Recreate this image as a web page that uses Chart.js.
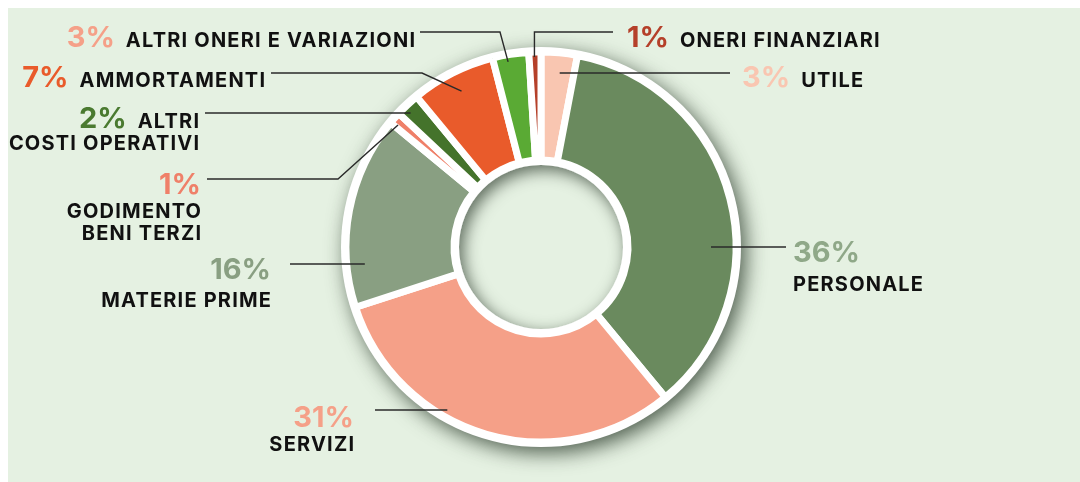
<!DOCTYPE html>
<html><head><meta charset="utf-8">
<script src="https://cdn.jsdelivr.net/npm/chart.js@4.4.1/dist/chart.umd.min.js"></script>
<style>html,body{margin:0;padding:0;background:#fff;}canvas{display:block;}</style>
</head><body>
<canvas id="c" width="1080" height="482"></canvas>
<script>
// ---- data ----
const categories = ['UTILE','PERSONALE','SERVIZI','MATERIE PRIME','GODIMENTO\nBENI TERZI','ALTRI\nCOSTI OPERATIVI','AMMORTAMENTI','ALTRI ONERI E VARIAZIONI','ONERI FINANZIARI'];
const values = [3,36,31,16,1,2,7,3,1];
const sliceColors = ['#f9c6b1','#6a8a5e','#f5a088','#899f82','#ef8069','#44732b','#e95b2b','#5aaa34','#b5402a'];
const pctColors   = ['#f9c6b1','#8fa888','#f5a088','#899f82','#ef8069','#4a7a30','#e95b2b','#f5a088','#b5402a'];

// ---- label layout (annotation placement) ----
const labelLayout = [
  {align:'left',  x:742, mode:'inline', rows:[86.5],          line:{y:73,  x0:730, r:175}},
  {align:'left',  x:793, mode:'stack',  rows:[262,291],       line:{y:247, x0:786, r:170}},
  {align:'right', x:354, mode:'stack',  rows:[427,451],       line:{y:410, x0:375, r:188}},
  {align:'right', x:271, mode:'stack',  rows:[279,307],       line:{y:264, x0:290, r:177}},
  {align:'right', x:201, mode:'stack',  rows:[194,218,240],   line:{y:179, x0:207, elbow:338, t:0.25, r:188}},
  {align:'right', x:199, mode:'inline', rows:[127.5,150],     line:{y:113, x0:205, r:187}},
  {align:'right', x:265, mode:'inline', rows:[86.5],          line:{y:73,  x0:271, elbow:422, t:0.5, r:175}},
  {align:'right', x:415, mode:'inline', rows:[46.5],          line:{y:32,  x0:420, elbow:500, t:0.4, r:188}},
  {align:'left',  x:627, mode:'inline', rows:[46.5],          line:{y:32,  x0:613, vertical:true, t:0.45, r:190}}
];

const PANEL = '#e5f1e2';
const PCT_FONT = '700 29px Inter';
const TXT_FONT = '700 20px Inter';
const TXT_SPACING = '1.2px';

const decor = {
  id:'decor',
  beforeDraw(chart){
    const ctx = chart.ctx, W = chart.width, H = chart.height;
    ctx.save();
    ctx.fillStyle = '#ffffff'; ctx.fillRect(0,0,W,H);
    ctx.fillStyle = PANEL; ctx.fillRect(8,8,W-8,H-8);
    ctx.restore();
  },
  beforeDatasetsDraw(chart){
    const a = chart.getDatasetMeta(0).data[0];
    const ctx = chart.ctx;
    ctx.save();
    ctx.beginPath(); ctx.arc(a.x, a.y, a.outerRadius + 5, 0, Math.PI*2);
    ctx.shadowColor = 'rgba(30,45,30,0.75)'; ctx.shadowBlur = 20; ctx.shadowOffsetX = 5; ctx.shadowOffsetY = 6;
    ctx.fillStyle = '#ffffff'; ctx.fill();
    ctx.restore();
  },
  afterDatasetsDraw(chart){
    const meta = chart.getDatasetMeta(0);
    const a = meta.data[0];
    const ctx = chart.ctx;
    const cx = a.x, cy = a.y, holeR = a.innerRadius - 5;
    ctx.save();
    ctx.beginPath(); ctx.arc(cx, cy, holeR, 0, Math.PI*2); ctx.clip();
    ctx.fillStyle = PANEL; ctx.fillRect(cx-holeR-2, cy-holeR-2, 2*holeR+4, 2*holeR+4);
    ctx.beginPath();
    ctx.rect(cx-holeR-120, cy-holeR-120, 2*holeR+240, 2*holeR+240);
    ctx.arc(cx, cy, holeR, 0, Math.PI*2, true);
    ctx.shadowColor = 'rgba(35,50,35,0.7)'; ctx.shadowBlur = 16; ctx.shadowOffsetX = 4; ctx.shadowOffsetY = 5;
    ctx.fillStyle = '#ffffff'; ctx.fill();
    ctx.restore();

    ctx.save();
    labelLayout.forEach((L, i) => {
      const arc = meta.data[i];
      const ln = L.line;
      let ax, ay;
      if (ln.t === undefined) {
        const mid = (arc.startAngle + arc.endAngle)/2;
        const side = Math.cos(mid) >= 0 ? 1 : -1;
        const dy = ln.y - cy;
        ax = cx + side*Math.sqrt(Math.max(ln.r*ln.r - dy*dy, 0));
        ay = ln.y;
      } else {
        const ang = arc.startAngle + ln.t*(arc.endAngle - arc.startAngle);
        ax = cx + ln.r*Math.cos(ang); ay = cy + ln.r*Math.sin(ang);
      }
      ctx.beginPath();
      ctx.strokeStyle = '#2a2a2a'; ctx.lineWidth = 1.4;
      ctx.moveTo(ln.x0, ln.y);
      if (ln.vertical) { ctx.lineTo(ax, ln.y); }
      else if (ln.elbow !== undefined) { ctx.lineTo(ln.elbow, ln.y); }
      ctx.lineTo(ax, ay);
      ctx.stroke();

      const pct = values[i] + '%';
      const lines = categories[i].split('\n');
      ctx.textBaseline = 'alphabetic';
      const drawTxt = (s, x, y, align) => {
        ctx.font = TXT_FONT; ctx.letterSpacing = TXT_SPACING; ctx.fillStyle = '#111111';
        ctx.textAlign = align;
        // compensate trailing letter spacing for right alignment
        ctx.fillText(s, align === 'right' ? x + 1.2 : x, y);
        ctx.letterSpacing = '0px';
      };
      const drawPct = (x, y, align) => {
        ctx.font = PCT_FONT; ctx.letterSpacing = '0px'; ctx.fillStyle = pctColors[i];
        ctx.textAlign = align; ctx.fillText(pct, x, y);
      };
      const gap = 11;
      if (L.mode === 'inline') {
        ctx.font = PCT_FONT; ctx.letterSpacing = '0px';
        const pw = ctx.measureText(pct).width;
        ctx.font = TXT_FONT; ctx.letterSpacing = TXT_SPACING;
        const tw = ctx.measureText(lines[0]).width - 1.2;
        ctx.letterSpacing = '0px';
        if (L.align === 'left') {
          drawPct(L.x, L.rows[0], 'left');
          drawTxt(lines[0], L.x + pw + gap, L.rows[0], 'left');
        } else {
          drawTxt(lines[0], L.x, L.rows[0], 'right');
          drawPct(L.x - tw - gap, L.rows[0], 'right');
        }
        for (let k = 1; k < lines.length; k++) drawTxt(lines[k], L.x, L.rows[k], L.align);
      } else {
        drawPct(L.x, L.rows[0], L.align);
        for (let k = 0; k < lines.length; k++) drawTxt(lines[k], L.x, L.rows[k+1], L.align);
      }
    });
    ctx.restore();
  }
};

new Chart(document.getElementById('c'), {
  type: 'doughnut',
  data: {
    labels: categories,
    datasets: [{
      data: values,
      backgroundColor: sliceColors,
      borderColor: '#ffffff',
      borderWidth: 7,
      hoverOffset: 0
    }]
  },
  options: {
    responsive: false,
    animation: false,
    events: [],
    rotation: 0,
    radius: 195,
    cutout: '44.6%',
    layout: { padding: { top: 47, bottom: 35, left: 341, right: 339 } },
    plugins: { legend: { display: false }, tooltip: { enabled: false } }
  },
  plugins: [decor]
});
</script>
</body></html>
